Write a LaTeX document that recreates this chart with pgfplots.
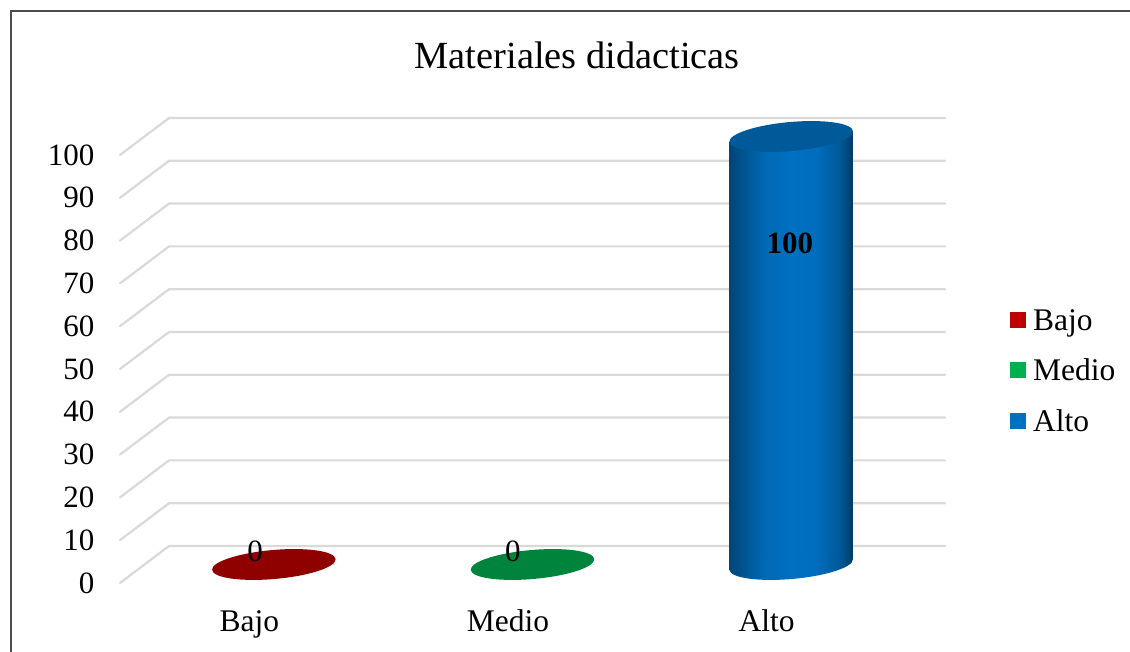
\documentclass[border=0pt]{standalone}
\usepackage{fontspec}
\setmainfont{Liberation Serif}
\usepackage{pgfplots}
\pgfplotsset{compat=1.18}

\definecolor{gridgray}{HTML}{D9D9D9}
\definecolor{framegray}{HTML}{4D4D4D}
\definecolor{bajo}{HTML}{C00000}
\definecolor{medio}{HTML}{00B050}
\definecolor{alto}{HTML}{0070C0}
\definecolor{bajotop}{HTML}{8F0000}
\definecolor{mediotop}{HTML}{00843C}
\definecolor{altotop}{HTML}{005A9A}

% cylinder side, 25bp to 75bp span the bar
\pgfdeclarehorizontalshading{cyl}{100bp}{
  color(0bp)=(alto!62!black); color(25bp)=(alto!62!black);
  color(39bp)=(alto!94!black); color(50bp)=(alto);
  color(60bp)=(alto!98!black); color(70bp)=(alto!78!black);
  color(75bp)=(alto!52!black); color(100bp)=(alto!52!black)}

\pgfdeclareplotmark{capflat}{%
  \pgftransformrotate{5}%
  \pgfpathellipse{\pgfpointorigin}{\pgfqpoint{62pt}{0pt}}{\pgfqpoint{0pt}{14.5pt}}%
  \pgfusepathqfill}
\pgfdeclareplotmark{capshade}{%
  \pgftransformrotate{5}%
  \pgfpathellipse{\pgfpointorigin}{\pgfqpoint{62pt}{0pt}}{\pgfqpoint{0pt}{14.5pt}}%
  \pgfshadepath{cyl}{0}\pgfusepath{}}

\newcommand{\bigfont}{\fontsize{31}{36}\selectfont}
\newcommand{\catfont}{\fontsize{31.5}{36}\selectfont}

\begin{document}
\begin{tikzpicture}
\useasboundingbox (0,0) rectangle (1130pt,652pt);
\draw[framegray,line width=2pt] (10.5pt,0) -- (10.5pt,641pt) -- (1130pt,641pt);
\begin{axis}[
    at={(120pt,69pt)}, anchor=south west,
    scale only axis, width=776pt, height=428pt,
    clip=false,
    xmin=-0.5, xmax=2.5, ymin=0, ymax=100,
    axis line style={draw=none},
    major tick style={draw=none},
    xtick={0,1,2}, xticklabels={Bajo,Medio,Alto},
    ytick={0,10,...,100},
    tick label style={font=\bigfont},
    /pgf/number format/assume math mode=true,
    yticklabel style={anchor=east,xshift=-22pt},
    xticklabel style={anchor=base,yshift=-44pt,font=\catfont},
    title={Materiales didacticas},
    title style={at={(axis description cs:0.5892,1.189)},anchor=base,font=\fontsize{38.4}{44}\selectfont,inner sep=0pt},
    ybar, bar width=123.5pt, bar shift=0pt,
    legend style={at={(axis description cs:1.1469,0.6449)},anchor=north west,draw=none,fill=none,
      font=\catfont,inner sep=0pt,row sep=23.5pt,
      /tikz/every odd column/.append style={column sep=5pt}},
    legend cell align=left,
]
\pgfplotsinvokeforeach{0,10,...,100}{
  \draw[gridgray,line width=2.2pt,line cap=round] (axis cs:-0.5,#1) -- ++(49pt,37pt) -- ++(776pt,0pt);
}
\addplot[draw=none,fill=bajo,xshift=24.5pt,yshift=18.5pt,
  legend image code/.code={\fill[bajo] (0pt,-26pt) rectangle (16pt,-10pt);}]
  coordinates {(0,0)};
\addlegendentry{Bajo}
\addplot[draw=none,fill=medio,xshift=24.5pt,yshift=18.5pt,
  legend image code/.code={\fill[medio] (0pt,-26pt) rectangle (16pt,-10pt);}]
  coordinates {(1,0)};
\addlegendentry{Medio}
\addlegendimage{ybar,draw=none,fill=alto,xshift=24.5pt,yshift=18.5pt,
  legend image code/.code={\fill[alto] (0pt,-26pt) rectangle (16pt,-10pt);}}
\addlegendentry{Alto}
% bottom of the cylinder goes under its side
\addplot[forget plot,only marks,xshift=24.5pt,yshift=18.5pt,mark=capshade] coordinates {(2,0)};
\addplot[forget plot,draw=none,shading=cyl,xshift=24.5pt,yshift=-38.08pt,yslant=0.0875]
  coordinates {(2,100)};
\addplot[forget plot,only marks,xshift=24.5pt,yshift=18.5pt,mark=capflat,altotop] coordinates {(2,100)};
\addplot[forget plot,only marks,xshift=24.5pt,yshift=18.5pt,mark=capflat,bajotop] coordinates {(0,0)};
\addplot[forget plot,only marks,xshift=24.5pt,yshift=18.5pt,mark=capflat,mediotop] coordinates {(1,0)};
% value labels, as plots so that they lie over the ellipses
\addplot[forget plot,only marks,mark=none,point meta=explicit symbolic,nodes near coords,
  every node near coord/.append style={font=\bigfont,anchor=center,inner sep=0pt,black}]
  coordinates {(0.022,7.5)[0] (1.019,7.5)[0]};
\addplot[forget plot,only marks,mark=none,point meta=explicit symbolic,nodes near coords,
  every node near coord/.append style={font=\bigfont\bfseries,anchor=center,inner sep=0pt,black}]
  coordinates {(2.09,79.4)[100]};
\end{axis}
\end{tikzpicture}
\end{document}
